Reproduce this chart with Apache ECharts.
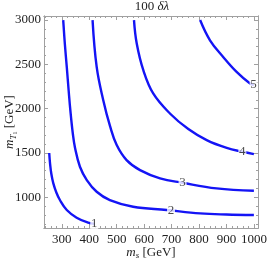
<!DOCTYPE html>
<html><head><meta charset="utf-8">
<script src="https://cdn.jsdelivr.net/npm/echarts@6/dist/echarts.min.js"></script>
<style>html,body{margin:0;padding:0;background:#fff}#c{width:267px;height:261px}</style>
</head><body><div id="c"></div>
<script>
// contour curves (m_s [GeV], m_T1 [GeV])
const curve1 = [[254,1500],[257,1383],[262,1260],[269,1158],[280,1055],[293,970],[318,857],[354,770],[396,714],[420,700]];
const curve2 = [[305,3000],[311,2730],[318,2471],[325,2200],[331,1983],[340,1720],[348,1560],[366,1345],[391,1195],[427,1063],[475,969],[560,894],[682,857],[804,819],[900,806],[1000,800]];
const curve3 = [[412,3000],[427,2471],[451,2096],[476,1800],[500,1590],[536,1420],[585,1307],[658,1214],[740,1164],[864,1101],[1000,1074]];
const curve4 = [[563,3000],[573,2735],[597,2434],[633,2172],[694,1946],[761,1770],[828,1645],[901,1557],[958,1514],[1000,1488]];
const curve5 = [[804,3000],[840,2772],[888,2584],[937,2415],[986,2284],[1000,2268]];
const curves = [curve1, curve2, curve3, curve4, curve5];
// contour labels
const labelX = [418, 698, 740, 958, 999];
const labelY = [700, 847, 1164, 1514, 2268];
const labelText = ['1', '2', '3', '4', '5'];
// ticks
const xMajor = [300,400,500,600,700,800,900,1000];
const xMinor = [240,260,280,320,340,360,380,420,440,460,480,520,540,560,580,620,640,660,680,720,740,760,780,820,840,860,880,920,940,960,980];
const yMajor = [1000,1500,2000,2500,3000];
const yMinor = [700,800,900,1100,1200,1300,1400,1600,1700,1800,1900,2100,2200,2300,2400,2600,2700,2800,2900];

const FONT = 'Liberation Serif';
const frameCol = '#a0a0a0';
const xRange = {min: 235, max: 1015};
const yRange = {min: 654, max: 3046};

function axis(kind, pos, vals, len, labels) {
  const a = {
    type: 'value', position: pos, min: (kind==='x'?xRange:yRange).min, max: (kind==='x'?xRange:yRange).max,
    axisLine: {show: true, onZero: false, lineStyle: {color: frameCol, width: 1}},
    axisTick: {show: true, inside: true, length: len, customValues: vals, lineStyle: {color: frameCol, width: 1}},
    axisLabel: {show: false},
    splitLine: {show: false}
  };
  if (labels) {
    a.axisLabel = {show: true, customValues: vals, formatter: v => String(v), hideOverlap: false, showMinLabel: true, showMaxLabel: true,
      color: '#222', fontFamily: FONT, fontSize: 13, margin: kind==='x'?5:3};
  }
  return a;
}

const xAxes = [axis('x','bottom',xMajor,4,true), axis('x','bottom',xMinor,2,false), axis('x','top',xMajor,4,false), axis('x','top',xMinor,2,false)];
const yAxes = [axis('y','left',yMajor,4,true), axis('y','left',yMinor,2,false), axis('y','right',yMajor,4,false), axis('y','right',yMinor,2,false)];
xAxes[0].name = '{i|m}{s|s}{n| [GeV]}';
xAxes[0].nameLocation = 'middle';
xAxes[0].nameGap = 17;
xAxes[0].nameMoveOverlap = false;
xAxes[0].nameTextStyle = {fontFamily: FONT, fontSize: 13, color: '#222', rich: {n: {fontFamily: FONT, fontSize: 13, lineHeight: 15}, i: {fontFamily: FONT, fontStyle: 'italic', fontSize: 13, lineHeight: 15}, s: {fontFamily: FONT, fontStyle: 'italic', fontSize: 9, lineHeight: 9, verticalAlign: 'bottom'}}};
yAxes[0].name = '{i|m}{s|T}{ss|1}{n| [GeV]}';
yAxes[0].nameLocation = 'middle';
yAxes[0].nameGap = 26;
yAxes[0].nameRotate = 90;
yAxes[0].nameMoveOverlap = false;
yAxes[0].nameTextStyle = {fontFamily: FONT, fontSize: 13, color: '#222', rich: {n: {fontFamily: FONT, fontSize: 13, lineHeight: 17}, i: {fontFamily: FONT, fontStyle: 'italic', fontSize: 13, lineHeight: 17}, s: {fontFamily: FONT, fontStyle: 'italic', fontSize: 9, lineHeight: 9, verticalAlign: 'bottom'}, ss: {fontFamily: FONT, fontSize: 6, lineHeight: 6, verticalAlign: 'bottom'}}};

const series = curves.map(c => ({
  type: 'line', data: c, smooth: 0.4, showSymbol: false, symbol: 'none', clip: true,
  xAxisIndex: 0, yAxisIndex: 0,
  lineStyle: {color: '#1414f5', width: 2.4}, z: 2
}));
series.push({
  type: 'scatter', xAxisIndex: 0, yAxisIndex: 0, z: 5,
  data: labelX.map((x, i) => [x, labelY[i], labelText[i]]),
  symbol: 'rect', symbolSize: [8, 11],
  itemStyle: {color: '#ffffff'},
  label: {show: true, position: 'inside', formatter: p => p.data[2], fontFamily: FONT, fontSize: 13, color: '#222'}
});

const chart = echarts.init(document.getElementById('c'), null, {renderer: 'canvas'});
chart.setOption({
  animation: false,
  backgroundColor: '#ffffff',
  title: {text: '{n|100 }{i|δλ}', left: 152, top: 0, padding: 0, textAlign: 'center',
    textStyle: {fontFamily: FONT, fontSize: 13, fontWeight: 'normal', color: '#222', rich: {n: {fontFamily: FONT, fontSize: 13, lineHeight: 14}, i: {fontFamily: FONT, fontSize: 13, lineHeight: 14, fontStyle: 'italic'}}}},
  grid: {left: 44, right: 9, top: 16, bottom: 33, containLabel: false, outerBoundsMode: 'none'},
  xAxis: xAxes,
  yAxis: yAxes,
  series: series
});
</script></body></html>
